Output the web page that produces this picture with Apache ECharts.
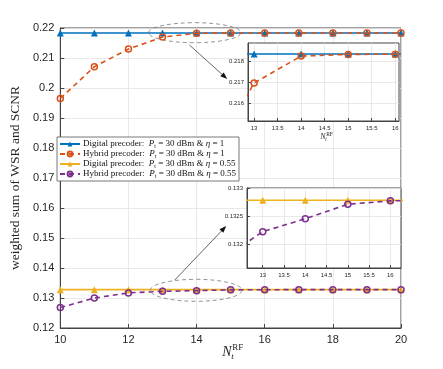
<!DOCTYPE html>
<html><head><meta charset="utf-8">
<script src="https://cdn.jsdelivr.net/npm/echarts@6/dist/echarts.min.js"></script>
<style>html,body{margin:0;padding:0;background:#fff}#c{width:443px;height:369px}</style>
</head><body><div id="c"></div>
<script>
// ---------- data ----------
const nRF = [10, 11, 12, 13, 14, 15, 16, 17, 18, 19, 20];
const digitalEta1 = [0.21834, 0.21834, 0.21834, 0.21834, 0.21834, 0.21834, 0.21834, 0.21834, 0.21834, 0.21834, 0.21834];
const hybridEta1 = [0.1965, 0.2071, 0.2130, 0.21697, 0.21824, 0.21832, 0.21833, 0.21833, 0.21833, 0.21833, 0.21833];
const digitalEta055 = [0.13278, 0.13278, 0.13278, 0.13278, 0.13278, 0.13278, 0.13278, 0.13278, 0.13278, 0.13278, 0.13278];
const hybridEta055 = [0.1268, 0.1300, 0.1317, 0.13222, 0.13245, 0.13271, 0.13277, 0.13278, 0.13278, 0.13278, 0.13278];
const mainYTicks = [0.12, 0.13, 0.14, 0.15, 0.16, 0.17, 0.18, 0.19, 0.2, 0.21, 0.22];
const mainXTicks = [10, 12, 14, 16, 18, 20];
const insetXTicks = [13, 13.5, 14, 14.5, 15, 15.5, 16];
const inset1YTicks = [0.216, 0.217, 0.218];
const inset2YTicks = [0.132, 0.1325, 0.133];
const seriesNames = [
  'Digital precoder: P_t = 30 dBm & η = 1',
  'Hybrid precoder: P_t = 30 dBm & η = 1',
  'Digital precoder: P_t = 30 dBm & η = 0.55',
  'Hybrid precoder: P_t = 30 dBm & η = 0.55'
];
// ---------- styles ----------
const colors = ['#0072BD', '#D95319', '#EDB120', '#7E2F8E'];
const SERIF = '"Liberation Serif","DejaVu Serif",serif';
const SANS = '"Liberation Sans",Arial,sans-serif';
const pair = (ys) => nRF.map((x, i) => [x, ys[i]]);
const fmt = v => String(parseFloat((+v).toFixed(5)));

function mkAxis(gi, type, min, max, ticks, fs, isMain, extra) {
  return Object.assign({
    type: 'value', gridIndex: gi, min: min, max: max,
    axisLine: { show: true, onZero: false, lineStyle: { color: '#444', width: 1 } },
    axisTick: { show: true, inside: true, length: isMain ? 4 : 3, customValues: ticks, lineStyle: { color: '#444' } },
    axisLabel: { customValues: ticks, formatter: fmt, color: '#262626', fontFamily: SANS, fontSize: fs, margin: isMain ? 6 : 4 },
    splitLine: { show: true, lineStyle: { color: '#e3e3e3', width: 0.8 } },
    z: isMain ? 0 : 11
  }, extra || {});
}

function mkSeries(k, data, xi, isMain) {
  const dashed = (k === 1 || k === 3);
  const sym = dashed ? 'circle' : 'triangle';
  return {
    name: seriesNames[k], type: 'line', xAxisIndex: xi, yAxisIndex: xi,
    data: data, symbol: sym, symbolSize: dashed ? 6 : 7, showSymbol: true,
    lineStyle: { color: colors[k], width: 1.6, type: dashed ? [5, 4] : 'solid' },
    itemStyle: dashed ? { color: 'rgba(255,255,255,0)', borderColor: colors[k], borderWidth: 1.5 } : { color: colors[k] },
    z: isMain ? (dashed ? 4 : 3) : (dashed ? 13 : 12), clip: true, animation: false,
    emphasis: { disabled: true }
  };
}

const chart = echarts.init(document.getElementById('c'), null, { renderer: 'canvas' });

const inset1Data = [pair(digitalEta1), pair(hybridEta1)];
const inset2Data = [pair(digitalEta055), pair(hybridEta055)];

const option = {
  animation: false,
  backgroundColor: '#fff',
  grid: [
    { left: 58, right: 42, top: 28, bottom: 41, show: true, borderColor: '#444', borderWidth: 1, backgroundColor: '#fff' },
    { left: 248, top: 43, width: 151, height: 78, show: true, borderColor: '#444', borderWidth: 1, backgroundColor: '#fff', z: 10 },
    { left: 247, top: 188, width: 154, height: 80, show: true, borderColor: '#444', borderWidth: 1, backgroundColor: '#fff', z: 10 }
  ],
  xAxis: [
    mkAxis(0, 'x', 10, 20, mainXTicks, 11, true, { axisLabel: { customValues: mainXTicks, color: '#262626', fontFamily: SANS, fontSize: 11, margin: 6 } }),
    mkAxis(1, 'x', 12.87, 16.08, insetXTicks, 6, false),
    mkAxis(2, 'x', 12.63, 16.25, insetXTicks, 6, false)
  ],
  yAxis: [
    mkAxis(0, 'y', 0.12, 0.22, mainYTicks, 11, true, {
      name: 'weighted sum of WSR and SCNR', nameLocation: 'middle', nameGap: 37,
      nameTextStyle: { fontFamily: SERIF, fontSize: 13.5, color: '#262626' }
    }),
    mkAxis(1, 'y', 0.21517, 0.21886, inset1YTicks, 6, false),
    mkAxis(2, 'y', 0.13157, 0.133, inset2YTicks, 6, false)
  ],
  legend: {
    orient: 'vertical', left: 57, top: 137, z: 20,
    data: seriesNames,
    backgroundColor: '#fff', borderColor: '#555', borderWidth: 0.8,
    padding: [2, 3, 2, 2], itemGap: 0, itemWidth: 20, itemHeight: 6,
    selectedMode: false,
    formatter: function (name) {
      const m = name.match(/^(\w+ precoder:) P_t = 30 dBm & η = (.*)$/);
      return m[1] + '  {i|P}{s|t} = 30 dBm & {i|η} = ' + m[2];
    },
    textStyle: {
      fontFamily: SERIF, fontSize: 9, color: '#111', lineHeight: 9.6, padding: [0, 0, 0, -2],
      rich: {
        i: { fontFamily: SERIF, fontStyle: 'italic', fontSize: 9, lineHeight: 9.6 },
        s: { fontFamily: SERIF, fontSize: 6, lineHeight: 9.6, padding: [4, 0, 0, 0] }
      }
    }
  },
  series: [
    mkSeries(0, pair(digitalEta1), 0, true),
    mkSeries(2, pair(digitalEta055), 0, true),
    mkSeries(1, pair(hybridEta1), 0, true),
    mkSeries(3, pair(hybridEta055), 0, true),
    mkSeries(0, inset1Data[0], 1, false),
    mkSeries(1, inset1Data[1], 1, false),
    mkSeries(2, inset2Data[0], 2, false),
    mkSeries(3, inset2Data[1], 2, false)
  ]
};
chart.setOption(option);

// ---------- annotations (ellipses, arrows, axis titles) ----------
function px(x, y) { return chart.convertToPixel({ gridIndex: 0 }, [x, y]); }
function ellipseFrom(x0, x1, y0, y1) {
  const a = px(x0, y0), b = px(x1, y1);
  return {
    type: 'ellipse', silent: true, z: 30,
    shape: { cx: (a[0] + b[0]) / 2, cy: (a[1] + b[1]) / 2, rx: Math.abs(b[0] - a[0]) / 2, ry: Math.abs(b[1] - a[1]) / 2 },
    style: { fill: 'none', stroke: '#777', lineWidth: 0.8, lineDash: [4, 3] }
  };
}
function arrowFrom(x0, y0, x1, y1) {
  const a = px(x0, y0), b = px(x1, y1);
  const ang = Math.atan2(b[1] - a[1], b[0] - a[0]);
  const L = 7, W = 2.6;
  const bx = b[0] - L * Math.cos(ang), by = b[1] - L * Math.sin(ang);
  const nx = -Math.sin(ang) * W, ny = Math.cos(ang) * W;
  return [
    { type: 'line', silent: true, z: 30, shape: { x1: a[0], y1: a[1], x2: bx, y2: by }, style: { stroke: '#222', lineWidth: 0.7 } },
    { type: 'polygon', silent: true, z: 30, shape: { points: [[b[0], b[1]], [bx + nx, by + ny], [bx - nx, by - ny]] }, style: { fill: '#111' } }
  ];
}
function nTitle(cx, cy, big, small) {
  return [
    { type: 'text', silent: true, z: 30, style: { text: 'N', x: cx, y: cy, align: 'right', verticalAlign: 'middle', font: 'italic ' + big + 'px ' + SERIF, fill: '#262626' } },
    { type: 'text', silent: true, z: 30, style: { text: 'RF', x: cx + 0.5, y: cy - big * 0.32, align: 'left', verticalAlign: 'middle', font: small + 'px ' + SERIF, fill: '#262626' } },
    { type: 'text', silent: true, z: 30, style: { text: 't', x: cx - 0.5, y: cy + big * 0.3, align: 'left', verticalAlign: 'middle', font: 'italic ' + small + 'px ' + SERIF, fill: '#262626' } }
  ];
}
const xmid = chart.convertToPixel({ gridIndex: 0 }, [15, 0.12])[0];
const inMid = chart.convertToPixel({ gridIndex: 1 }, [14.5, 0.21517]);
chart.setOption({
  graphic: [
    ellipseFrom(12.59, 15.3, 0.22177, 0.2151),
    ellipseFrom(12.64, 15.33, 0.13623, 0.1289),
    ...arrowFrom(13.79, 0.21433, 14.9, 0.2030),
    ...arrowFrom(13.36, 0.1360, 14.87, 0.1540),
    ...nTitle(xmid + 1, 352, 14, 9),
    ...nTitle(inMid[0] + 1, inMid[1] + 16, 8, 5.5)
  ]
});
</script></body></html>
